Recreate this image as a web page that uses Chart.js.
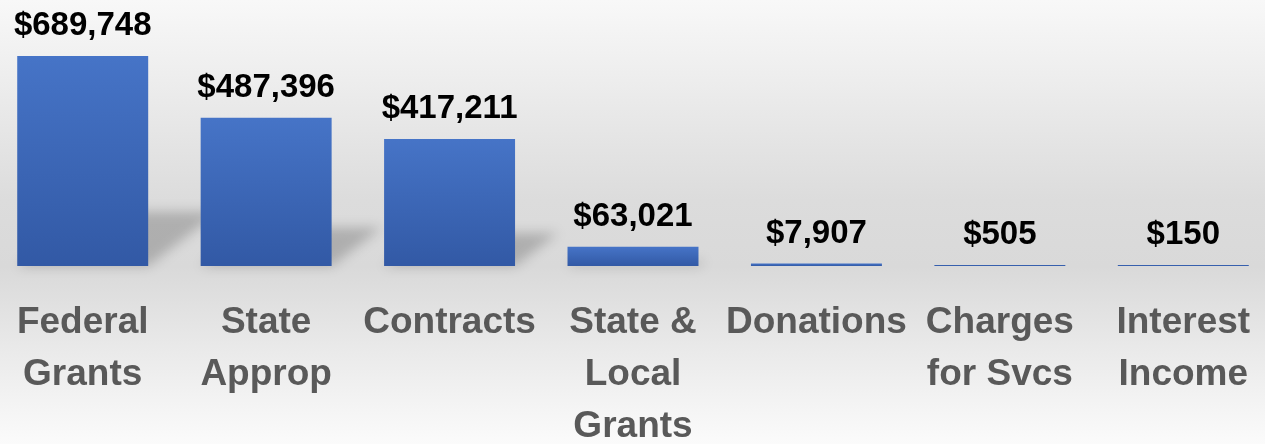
<!DOCTYPE html>
<html>
<head>
<meta charset="utf-8">
<script src="https://cdn.jsdelivr.net/npm/chart.js@4"></script>
<style>
    html, body { margin: 0; padding: 0; }
    #wrap {
        position: relative;
        width: 1265px;
        height: 444px;
        overflow: hidden;
        background: linear-gradient(to bottom, #f8f8f8 0%, #efefef 15%, #dcdcdc 45%, #d9d9d9 60%, #e9e9e9 78%, #fbfbfb 100%);
    }
    #revChart { position: absolute; left: -9px; top: 0; }
</style>
</head>
<body>
<div id="wrap">
    <canvas id="revChart" width="1284" height="451"></canvas>
</div>
<script>
// Revenue by source
const categories = [
    ['Federal', 'Grants'],
    ['State', 'Approp'],
    'Contracts',
    ['State &', 'Local', 'Grants'],
    'Donations',
    ['Charges', 'for Svcs'],
    ['Interest', 'Income']
];
const revenue = [689748, 487396, 417211, 63021, 7907, 505, 150];

const money = v => '$' + v.toLocaleString('en-US');

// soft skewed shadow behind each bar
const barShadow = {
    id: 'barShadow',
    beforeDatasetsDraw(chart) {
        const ctx = chart.ctx;
        const meta = chart.getDatasetMeta(0);
        ctx.save();
        ctx.filter = 'blur(6px)';
        ctx.fillStyle = 'rgba(0,0,0,0.2)';
        meta.data.forEach(bar => {
            const h = (bar.base - bar.y) * 0.26;
            if (h < 2) return;
            const left = bar.x - bar.width / 2;
            const right = bar.x + bar.width / 2;
            ctx.beginPath();
            ctx.moveTo(left, bar.base);
            ctx.lineTo(right, bar.base);
            ctx.lineTo(right + h * 1.3, bar.base - h);
            ctx.lineTo(left + h * 1.3, bar.base - h);
            ctx.closePath();
            ctx.fill();
        });
        ctx.restore();
    }
};

// value labels above bars
const valueLabels = {
    id: 'valueLabels',
    afterDatasetsDraw(chart) {
        const ctx = chart.ctx;
        const meta = chart.getDatasetMeta(0);
        ctx.save();
        ctx.font = 'bold 33px "Liberation Sans", Arial, sans-serif';
        ctx.fillStyle = '#000000';
        ctx.textAlign = 'center';
        ctx.textBaseline = 'alphabetic';
        meta.data.forEach((bar, i) => {
            ctx.fillText(money(revenue[i]), bar.x, bar.y - 21);
        });
        ctx.restore();
    }
};

function barFill(c) {
    const chart = c.chart;
    const y = chart.scales.y;
    if (!chart.chartArea || !y || c.type !== 'data') return '#4472c4';
    const base = y.getPixelForValue(0);
    const top = Math.min(y.getPixelForValue(c.raw), base - 2);
    const g = chart.ctx.createLinearGradient(0, top, 0, base);
    g.addColorStop(0, '#4674c7');
    g.addColorStop(1, '#3259a5');
    return g;
}

new Chart(document.getElementById('revChart'), {
    type: 'bar',
    data: {
        labels: categories,
        datasets: [{
            data: revenue,
            backgroundColor: barFill,
            borderWidth: 0,
            barPercentage: 0.714,
            categoryPercentage: 1,
            minBarLength: 1
        }]
    },
    options: {
        responsive: false,
        animation: false,
        layout: { padding: 0 },
        scales: {
            y: { display: false, min: 0, max: 874000 },
            x: {
                grid: { display: false, drawTicks: false },
                border: { display: false },
                afterFit(scale) {
                    // keep the plot full width and the axis band fixed
                    scale.height = 185;
                    scale.paddingLeft = 0;
                    scale.paddingRight = 0;
                },
                ticks: {
                    color: '#595959',
                    padding: 31,
                    autoSkip: false,
                    maxRotation: 0,
                    minRotation: 0,
                    font: { family: '"Liberation Sans", Arial, sans-serif', size: 37, weight: 'bold', lineHeight: '52px' }
                }
            }
        },
        plugins: {
            legend: { display: false },
            tooltip: { enabled: false }
        }
    },
    plugins: [barShadow, valueLabels]
});
</script>
</body>
</html>
